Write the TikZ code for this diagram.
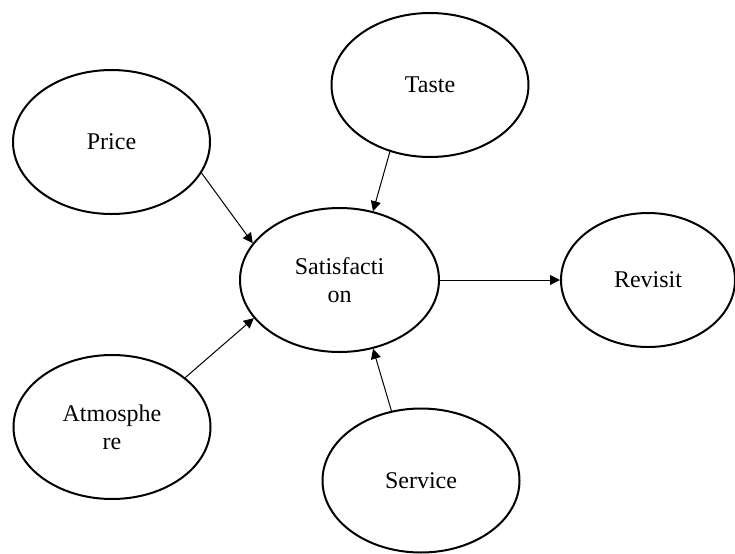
\documentclass[tikz,border=0pt]{standalone}
\usepackage{fontspec}
\setmainfont{Liberation Serif}
\usetikzlibrary{shapes.geometric}
\usetikzlibrary{arrows.meta}

\begin{document}
\begin{tikzpicture}[x=0.5pt, y=-0.5pt,
	factor/.style={draw, ellipse, line width=1pt, inner sep=0pt, minimum width=98.5pt, minimum height=72pt, align=center, font=\fontsize{12}{14}\selectfont},
	link/.style={-{Triangle[length=5pt, width=5pt]}, line width=0.5pt}]
	\useasboundingbox (0,0) rectangle (735,553);
	\node[factor] (price) at (111.5,142) {Price};
	\node[factor] (taste) at (430,85) {Taste};
	\node[factor, minimum width=99.5pt] (satisfaction) at (339.5,280) {Satisfacti\\on};
	\node[factor, minimum width=87pt, minimum height=67pt] (revisit) at (648,280) {Revisit};
	\node[factor] (atmosphere) at (112,427) {Atmosphe\\re};
	\node[factor] (service) at (421,480.5) {Service};
	\draw[link] (price.-19) -- (satisfaction.157);
	\draw[link] (taste.-121.5) -- (satisfaction.64);
	\draw[link] (atmosphere.34) -- (satisfaction.204);
	\draw[link] (service.113) -- (satisfaction.-64);
	\draw[link] (satisfaction.east) -- (revisit.west);
\end{tikzpicture}
\end{document}
